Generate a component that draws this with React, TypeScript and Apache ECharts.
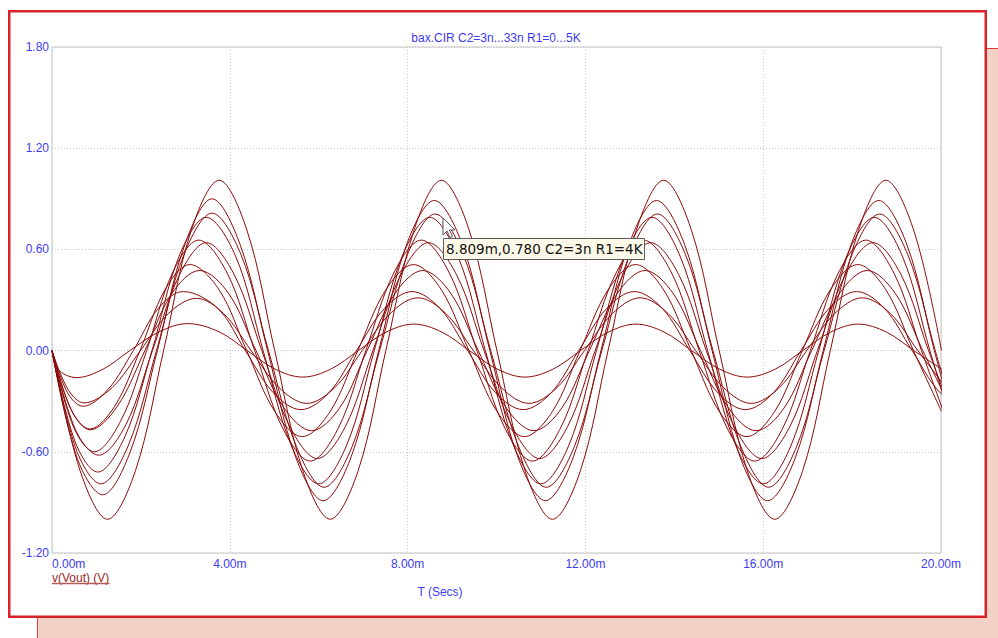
import React, { useEffect, useRef } from "react";
import * as echarts from "echarts";

const TITLE = "bax.CIR C2=3n...33n R1=0...5K";
const X_NAME = "T (Secs)";
const Y_NAME = "v(Vout) (V)";
const CURSOR_TEXT = "8.809m,0.780 C2=3n R1=4K";
const X_MIN = 0, X_MAX = 20, X_STEP = 4;
const Y_MIN = -1.2, Y_MAX = 1.8, Y_STEP = 0.6;

const c01 = [[0,0],[0.63,-0.71],[1.25,-1.0],[1.88,-0.71],[2.51,0],[3.13,0.71],[3.76,1.01],[4.39,0.71],[5.01,0],[5.64,-0.71],[6.26,-1.0],[6.89,-0.71],[7.51,0],[8.14,0.71],[8.76,1.01],[9.39,0.71],[10.01,0],[10.64,-0.71],[11.26,-1.0],[11.89,-0.71],[12.51,0],[13.14,0.71],[13.76,1.01],[14.39,0.71],[15.01,0],[15.64,-0.71],[16.26,-1.0],[16.89,-0.71],[17.51,0],[18.14,0.71],[18.76,1.01],[19.39,0.71],[20.01,0]];
const c02 = [[0,0],[0.57,-0.64],[1.14,-0.855],[1.76,-0.6],[2.37,0],[2.99,0.63],[3.6,0.9],[4.23,0.63],[4.85,0],[5.48,-0.63],[6.1,-0.89],[6.73,-0.63],[7.35,0],[7.98,0.63],[8.6,0.89],[9.23,0.63],[9.85,0],[10.48,-0.63],[11.1,-0.89],[11.73,-0.63],[12.35,0],[12.98,0.63],[13.6,0.89],[14.23,0.63],[14.85,0],[15.48,-0.63],[16.1,-0.89],[16.73,-0.63],[17.35,0],[17.98,0.63],[18.6,0.89],[19.23,0.63],[19.85,0],[20.48,-0.63]];
const c03 = [[0,0],[0.55,-0.59],[1.1,-0.79],[1.72,-0.56],[2.35,0],[2.97,0.57],[3.6,0.815],[4.25,0.57],[4.87,0],[5.5,-0.57],[6.12,-0.81],[6.75,-0.57],[7.37,0],[8.0,0.57],[8.62,0.81],[9.25,0.57],[9.87,0],[10.5,-0.57],[11.12,-0.81],[11.75,-0.57],[12.37,0],[13.0,0.57],[13.62,0.81],[14.25,0.57],[14.87,0],[15.5,-0.57],[16.12,-0.81],[16.75,-0.57],[17.37,0],[18.0,0.57],[18.62,0.81],[19.25,0.57],[19.87,0],[20.5,-0.57]];
const c04 = [[0,0],[0.52,-0.54],[1.03,-0.72],[1.64,-0.51],[2.25,0],[2.86,0.56],[3.47,0.79],[4.13,0.56],[4.75,0],[5.38,-0.56],[6.0,-0.79],[6.63,-0.56],[7.25,0],[7.88,0.56],[8.5,0.79],[9.13,0.56],[9.75,0],[10.38,-0.56],[11.0,-0.79],[11.63,-0.56],[12.25,0],[12.88,0.56],[13.5,0.79],[14.13,0.56],[14.75,0],[15.38,-0.56],[16.0,-0.79],[16.63,-0.56],[17.25,0],[17.88,0.56],[18.5,0.79],[19.13,0.56],[19.75,0],[20.38,-0.56]];
const c05 = [[0,0],[0.48,-0.45],[0.95,-0.6],[1.54,-0.42],[2.13,0],[2.71,0.46],[3.3,0.655],[3.94,0.46],[4.56,0],[5.19,-0.46],[5.81,-0.655],[6.44,-0.46],[7.06,0],[7.69,0.46],[8.31,0.655],[8.94,0.46],[9.56,0],[10.19,-0.46],[10.81,-0.655],[11.44,-0.46],[12.06,0],[12.69,0.46],[13.31,0.655],[13.94,0.46],[14.56,0],[15.19,-0.46],[15.81,-0.655],[16.44,-0.46],[17.06,0],[17.69,0.46],[18.31,0.655],[18.94,0.46],[19.56,0],[20.19,-0.46]];
const c06 = [[0,0],[0.53,-0.47],[1.05,-0.62],[1.66,-0.44],[2.26,0],[2.87,0.45],[3.47,0.64],[4.1,0.45],[4.72,0],[5.35,-0.45],[5.97,-0.64],[6.6,-0.45],[7.22,0],[7.85,0.45],[8.47,0.64],[9.1,0.45],[9.72,0],[10.35,-0.45],[10.97,-0.64],[11.6,-0.45],[12.22,0],[12.85,0.45],[13.47,0.64],[14.1,0.45],[14.72,0],[15.35,-0.45],[15.97,-0.64],[16.6,-0.45],[17.22,0],[17.85,0.45],[18.47,0.64],[19.1,0.45],[19.72,0],[20.35,-0.45]];
const c07 = [[0,0],[0.43,-0.35],[0.85,-0.465],[1.41,-0.33],[1.98,0],[2.54,0.36],[3.1,0.51],[3.76,0.36],[4.38,0],[5.01,-0.36],[5.63,-0.51],[6.26,-0.36],[6.88,0],[7.51,0.36],[8.13,0.51],[8.76,0.36],[9.38,0],[10.01,-0.36],[10.63,-0.51],[11.26,-0.36],[11.88,0],[12.51,0.36],[13.13,0.51],[13.76,0.36],[14.38,0],[15.01,-0.36],[15.63,-0.51],[16.26,-0.36],[16.88,0],[17.51,0.36],[18.13,0.51],[18.76,0.36],[19.38,0],[20.01,-0.36]];
const c08 = [[0,0],[0.43,-0.35],[0.86,-0.47],[1.47,-0.33],[2.09,0],[2.7,0.34],[3.32,0.475],[3.97,0.34],[4.59,0],[5.22,-0.34],[5.84,-0.475],[6.47,-0.34],[7.09,0],[7.72,0.34],[8.34,0.475],[8.97,0.34],[9.59,0],[10.22,-0.34],[10.84,-0.475],[11.47,-0.34],[12.09,0],[12.72,0.34],[13.34,0.475],[13.97,0.34],[14.59,0],[15.22,-0.34],[15.84,-0.475],[16.47,-0.34],[17.09,0],[17.72,0.34],[18.34,0.475],[18.97,0.34],[19.59,0],[20.22,-0.34]];
const c09 = [[0,0],[0.35,-0.25],[0.7,-0.33],[1.26,-0.23],[1.83,0],[2.39,0.25],[2.95,0.35],[3.73,0.25],[4.35,0],[4.98,-0.25],[5.6,-0.35],[6.23,-0.25],[6.85,0],[7.48,0.25],[8.1,0.35],[8.73,0.25],[9.35,0],[9.98,-0.25],[10.6,-0.35],[11.23,-0.25],[11.85,0],[12.48,0.25],[13.1,0.35],[13.73,0.25],[14.35,0],[14.98,-0.25],[15.6,-0.35],[16.23,-0.25],[16.85,0],[17.48,0.25],[18.1,0.35],[18.73,0.25],[19.35,0],[19.98,-0.25],[20.6,-0.35]];
const c10 = [[0,0],[0.36,-0.23],[0.72,-0.31],[1.35,-0.22],[1.99,0],[2.62,0.22],[3.25,0.31],[3.86,0.22],[4.48,0],[5.11,-0.22],[5.73,-0.313],[6.36,-0.22],[6.98,0],[7.61,0.22],[8.23,0.313],[8.86,0.22],[9.48,0],[10.11,-0.22],[10.73,-0.313],[11.36,-0.22],[11.98,0],[12.61,0.22],[13.23,0.313],[13.86,0.22],[14.48,0],[15.11,-0.22],[15.73,-0.313],[16.36,-0.22],[16.98,0],[17.61,0.22],[18.23,0.313],[18.86,0.22],[19.48,0],[20.11,-0.22]];
const c11 = [[0,0],[0.13,-0.11],[0.55,-0.16],[1.15,-0.11],[1.75,0],[2.4,0.11],[3.05,0.16],[3.77,0.11],[4.39,0],[5.02,-0.11],[5.64,-0.157],[6.27,-0.11],[6.89,0],[7.52,0.11],[8.14,0.157],[8.77,0.11],[9.39,0],[10.02,-0.11],[10.64,-0.157],[11.27,-0.11],[11.89,0],[12.52,0.11],[13.14,0.157],[13.77,0.11],[14.39,0],[15.02,-0.11],[15.64,-0.157],[16.27,-0.11],[16.89,0],[17.52,0.11],[18.14,0.157],[18.77,0.11],[19.39,0],[20.02,-0.11]];

const curves = [c01, c02, c03, c04, c05, c06, c07, c08, c09, c10, c11];

const BLUE = "#3c3cf5";
const CURVE = "#8c0a0a";
const FONT = '"Liberation Sans", Arial, sans-serif';

export default function App() {
  const ref = useRef<HTMLDivElement>(null);
  useEffect(() => {
    const chart = echarts.init(ref.current!, null, { renderer: "svg" });
    const grid = { left: 52, right: 57, top: 47, bottom: 85 };
    chart.setOption({
      animation: false,
      grid: { ...grid, show: true, borderColor: "#c4c4c4", borderWidth: 1, backgroundColor: "transparent" },
      xAxis: {
        type: "value",
        min: X_MIN,
        max: X_MAX,
        interval: X_STEP,
        axisLine: { show: false },
        axisTick: { show: false },
        splitLine: { show: true, lineStyle: { color: "#c8c8c8", type: [1, 2], width: 1 } },
        axisLabel: {
          color: BLUE,
          fontSize: 12,
          fontFamily: FONT,
          margin: 5,
          showMinLabel: true,
          showMaxLabel: true,
          alignMinLabel: "left",
          formatter: (v: number) => v.toFixed(2) + "m",
        },
      },
      yAxis: {
        type: "value",
        min: Y_MIN,
        max: Y_MAX,
        interval: Y_STEP,
        axisLine: { show: false },
        axisTick: { show: false },
        splitLine: { show: true, lineStyle: { color: "#c8c8c8", type: [1, 2], width: 1 } },
        axisLabel: {
          color: BLUE,
          fontSize: 12,
          fontFamily: FONT,
          margin: 3,
          showMinLabel: true,
          showMaxLabel: true,
          formatter: (v: number) => v.toFixed(2),
        },
      },
      series: curves.map((d, i) => ({
        type: "line",
        name: "curve" + (i + 1),
        data: d,
        showSymbol: false,
        smooth: 0.35,
        clip: true,
        lineStyle: { color: CURVE, width: 1 },
        itemStyle: { color: CURVE },
        emphasis: { disabled: true },
        silent: true,
        z: 3,
      })),
      graphic: [
        {
          type: "rect",
          z: -20,
          shape: { x: 37.5, y: 48.5, width: 980, height: 620 },
          style: { fill: "#f3d2c5", stroke: "#e03c3c", lineWidth: 1 },
        },
        {
          type: "rect",
          z: -10,
          shape: { x: 9.25, y: 11.25, width: 976.5, height: 605.5 },
          style: { fill: "#ffffff", stroke: "#d9232b", lineWidth: 2.5 },
        },
        {
          type: "text",
          z: 10,
          x: 496,
          y: 38,
          style: { text: TITLE, fill: BLUE, fontSize: 12, fontFamily: FONT, textAlign: "center", textVerticalAlign: "middle", align: "center", verticalAlign: "middle" },
        },
        {
          type: "text",
          z: 10,
          x: 440,
          y: 592,
          style: { text: X_NAME, fill: BLUE, fontSize: 12, fontFamily: FONT, textAlign: "center", textVerticalAlign: "middle", align: "center", verticalAlign: "middle" },
        },
        {
          type: "text",
          z: 10,
          x: 52,
          y: 577.5,
          style: { text: Y_NAME, fill: "#9a2626", fontSize: 12, fontFamily: FONT, textAlign: "left", textVerticalAlign: "middle", align: "left", verticalAlign: "middle" },
        },
        {
          type: "line",
          z: 10,
          shape: { x1: 52, y1: 583.5, x2: 109.5, y2: 583.5 },
          style: { stroke: "#b65a5a", lineWidth: 1.5 },
        },
        {
          type: "rect",
          z: 20,
          shape: { x: 443.5, y: 238.5, width: 201, height: 21 },
          style: { fill: "#fdf9e8", stroke: "#5a5a5a", lineWidth: 1 },
        },
        {
          type: "text",
          z: 21,
          x: 446,
          y: 249,
          style: { text: CURSOR_TEXT, fill: "#111111", fontSize: 13.5, fontFamily: '"DejaVu Sans", sans-serif', textAlign: "left", textVerticalAlign: "middle", align: "left", verticalAlign: "middle" },
        },
        {
          type: "polygon",
          z: 22,
          x: 443,
          y: 218,
          shape: { points: [[0, 0], [0, 17], [4, 13], [7, 19.5], [9.5, 18.5], [6.5, 12], [12, 12]] },
          style: { fill: "#ffffff", stroke: "#555555", lineWidth: 1 },
        },
      ],
    });
    return () => chart.dispose();
  }, []);
  return <div ref={ref} style={{ position: "absolute", left: 0, top: 0, width: 998, height: 638 }} />;
}
